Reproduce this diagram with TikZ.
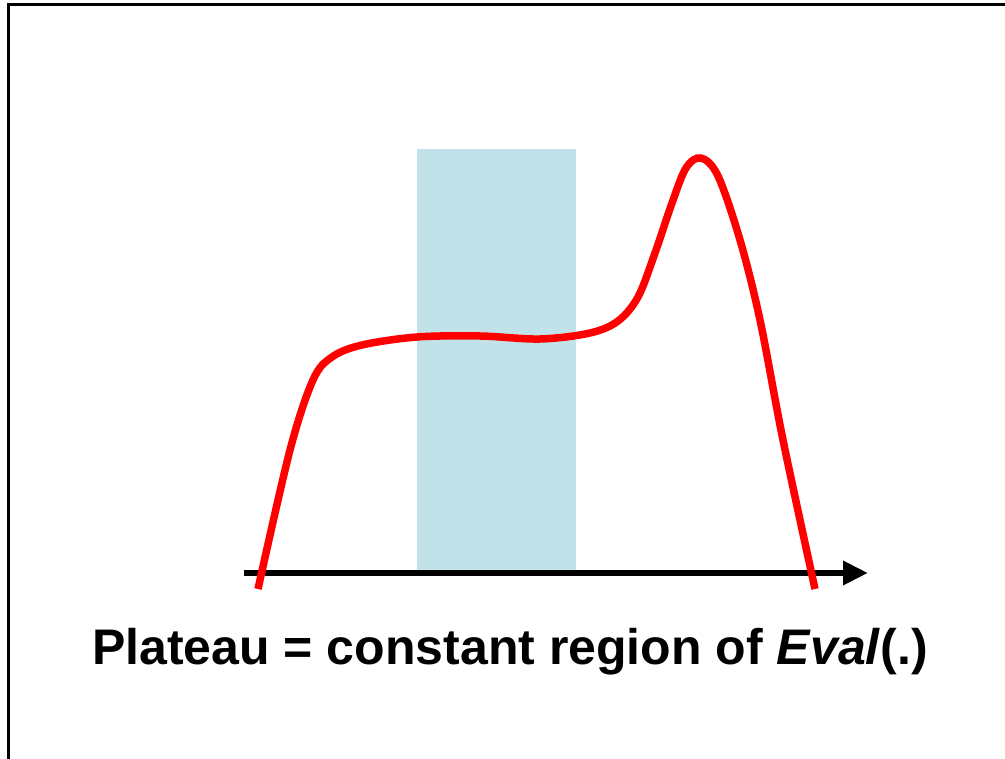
\documentclass[tikz,border=0pt]{standalone}
\usepackage{fontspec}
\setmainfont{Liberation Sans}
\usetikzlibrary{arrows.meta}
\definecolor{plateaublue}{RGB}{192,226,232}
\definecolor{curvered}{RGB}{255,0,0}
\tikzset{
  frameline/.style={draw=black, line width=3pt},
  axisline/.style={draw=black, line width=6.5pt, -{Triangle[length=25pt,width=23pt]}},
  evalcurve/.style={draw=curvered, line width=7.5pt, line join=round},
  caption/.style={font=\fontsize{50pt}{54pt}\selectfont\bfseries, inner sep=0pt, anchor=base}
}
\begin{document}
\begin{tikzpicture}[x=1pt,y=-1pt]
\useasboundingbox (0,0) rectangle (1005,759);
\clip (0,0) rectangle (1005,759);
\fill[white] (0,0) rectangle (1005,759);
\draw[frameline] (8.5,5) rectangle (1100,900);
\fill[plateaublue] (417,149) rectangle (576,573);
\coordinate (axL) at (244,573);
\coordinate (axR) at (868,573);
\draw[axisline] (axL) -- (axR);
\draw[evalcurve] plot[smooth, tension=0.55] coordinates {
  (258,589) (290,450) (313,380) (332,357) (362,345) (417,337)
  (480,336) (540,339) (590,333) (618,321) (638,297) (655,253) (672,203)
  (686,168) (701,158) (718,176) (740,240) (760,320) (783,440) (815,589)};
\node[caption] (cap) at (510,664) {Plateau = constant region of \textit{Eval}(.)};
\end{tikzpicture}
\end{document}
